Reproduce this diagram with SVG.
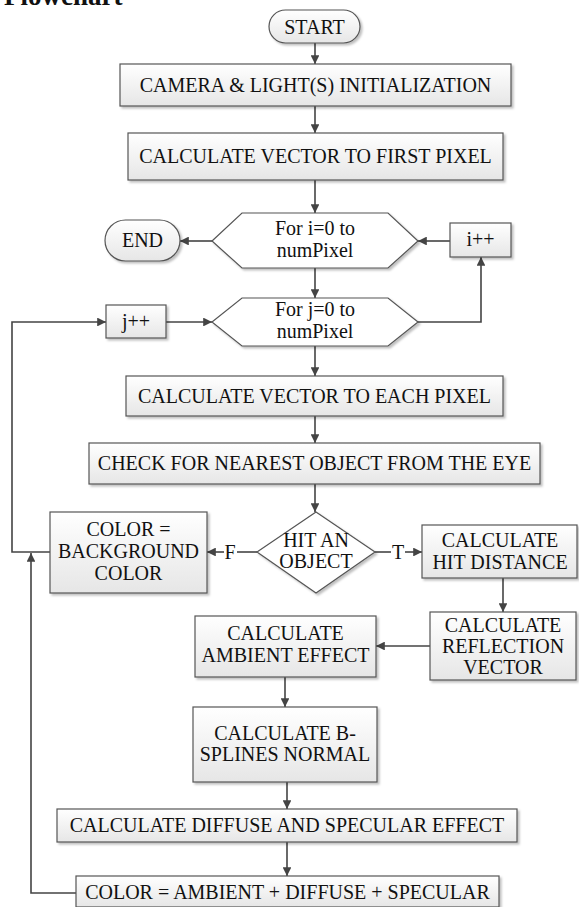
<svg xmlns="http://www.w3.org/2000/svg" width="579" height="907" viewBox="0 0 579 907">
<style>
text{font-family:"Liberation Serif","Times New Roman",serif;font-size:20px;fill:#111;text-anchor:middle}
.box{fill:url(#g);stroke:#555;stroke-width:1.2;filter:url(#sh)}
.plain{fill:#fff;stroke:#555;stroke-width:1.2;filter:url(#sh)}
.ln{fill:none;stroke:#444;stroke-width:1.6}
.arr{fill:none;stroke:#444;stroke-width:1.6;marker-end:url(#ah)}
.title{font-weight:bold;font-size:27px;text-anchor:start}
</style>
<defs>
<linearGradient id="g" x1="0" y1="0" x2="0" y2="1">
<stop offset="0" stop-color="#ffffff"/>
<stop offset="1" stop-color="#e6e6e6"/>
</linearGradient>
<filter id="sh" x="-10%" y="-10%" width="130%" height="140%">
<feDropShadow dx="2" dy="2" stdDeviation="1" flood-color="#000" flood-opacity="0.25"/>
</filter>
<marker id="ah" viewBox="0 0 10 10" refX="10" refY="5" markerWidth="5.5" markerHeight="5.5" orient="auto" markerUnits="strokeWidth">
<path d="M0,0 L10,5 L0,10 Z" fill="#444"/>
</marker>
</defs>
<text class="title" x="4" y="5">Flowchart</text>
<g id="connectors">
<line class="arr" x1="315" y1="43" x2="315" y2="64"/>
<line class="arr" x1="315" y1="106" x2="315" y2="133"/>
<line class="arr" x1="315" y1="180" x2="315" y2="213"/>
<line class="arr" x1="212" y1="241" x2="180" y2="241"/>
<line class="arr" x1="450" y1="241" x2="418" y2="241"/>
<line class="arr" x1="315" y1="268" x2="315" y2="298"/>
<polyline class="arr" points="418,322 481,322 481,257"/>
<line class="arr" x1="166" y1="322" x2="212" y2="322"/>
<polyline class="arr" points="50,552 12,552 12,322 106,322"/>
<line class="arr" x1="315" y1="346" x2="315" y2="376"/>
<line class="arr" x1="315" y1="416" x2="315" y2="443"/>
<line class="arr" x1="315" y1="484" x2="315" y2="512"/>
<line class="ln" x1="257" y1="552" x2="237" y2="552"/>
<line class="arr" x1="224" y1="552" x2="207" y2="552"/>
<text x="230" y="559">F</text>
<line class="ln" x1="375" y1="552" x2="391" y2="552"/>
<line class="arr" x1="405" y1="552" x2="422" y2="552"/>
<text x="398" y="559">T</text>
<line class="arr" x1="503" y1="578" x2="503" y2="612"/>
<line class="arr" x1="430" y1="646" x2="376" y2="646"/>
<line class="arr" x1="285" y1="677" x2="285" y2="707"/>
<line class="arr" x1="287" y1="782" x2="287" y2="809"/>
<line class="arr" x1="287" y1="842" x2="287" y2="876"/>
<polyline class="arr" points="76,893 31,893 31,553"/>
</g>
<g id="start">
<rect class="box" x="269" y="10" width="91" height="33" rx="16.5"/>
<text x="314.5" y="34">START</text>
</g>
<g id="init">
<rect class="box" x="120" y="64" width="391" height="42"/>
<text x="315.5" y="92">CAMERA &amp; LIGHT(S) INITIALIZATION</text>
</g>
<g id="firstpixel">
<rect class="box" x="128" y="133" width="375" height="47"/>
<text x="315.5" y="163">CALCULATE VECTOR TO FIRST PIXEL</text>
</g>
<g id="loop-i">
<polygon class="plain" points="212,241 242,213 388,213 418,241 388,268 242,268"/>
<text x="315" y="235">For i=0 to</text>
<text x="315" y="257">numPixel</text>
</g>
<g id="end">
<rect class="box" x="105" y="220" width="75" height="41" rx="20.5"/>
<text x="142.5" y="247">END</text>
</g>
<g id="inc-i">
<rect class="box" x="450" y="223" width="61" height="34"/>
<text x="480.5" y="246">i++</text>
</g>
<g id="loop-j">
<polygon class="plain" points="212,322 242,298 388,298 418,322 388,346 242,346"/>
<text x="315" y="316">For j=0 to</text>
<text x="315" y="338">numPixel</text>
</g>
<g id="inc-j">
<rect class="box" x="106" y="305" width="60" height="33"/>
<text x="136" y="328">j++</text>
</g>
<g id="eachpixel">
<rect class="box" x="126" y="376" width="377" height="40"/>
<text x="314.5" y="403">CALCULATE VECTOR TO EACH PIXEL</text>
</g>
<g id="check">
<rect class="box" x="89" y="443" width="451" height="41"/>
<text x="314.5" y="470">CHECK FOR NEAREST OBJECT FROM THE EYE</text>
</g>
<g id="hit">
<polygon class="plain" points="316,512 375,552 316,593 257,552"/>
<text x="316" y="547">HIT AN</text>
<text x="316" y="568">OBJECT</text>
</g>
<g id="background">
<rect class="box" x="50" y="512" width="157" height="81"/>
<text x="128.5" y="536">COLOR =</text>
<text x="128.5" y="558">BACKGROUND</text>
<text x="128.5" y="580">COLOR</text>
</g>
<g id="hitdistance">
<rect class="box" x="422" y="525" width="155" height="53"/>
<text x="500" y="547">CALCULATE</text>
<text x="500" y="569">HIT DISTANCE</text>
</g>
<g id="reflection">
<rect class="box" x="430" y="612" width="146" height="68"/>
<text x="503" y="632">CALCULATE</text>
<text x="503" y="653">REFLECTION</text>
<text x="503" y="674">VECTOR</text>
</g>
<g id="ambient">
<rect class="box" x="195" y="616" width="181" height="61"/>
<text x="285.5" y="640">CALCULATE</text>
<text x="285.5" y="662">AMBIENT EFFECT</text>
</g>
<g id="bsplines">
<rect class="box" x="193" y="707" width="184" height="75"/>
<text x="285" y="740">CALCULATE B-</text>
<text x="285" y="761">SPLINES NORMAL</text>
</g>
<g id="diffuse">
<rect class="box" x="57" y="809" width="460" height="33"/>
<text x="287" y="832">CALCULATE DIFFUSE AND SPECULAR EFFECT</text>
</g>
<g id="final">
<rect class="box" x="76" y="876" width="423" height="31"/>
<text x="287.5" y="899">COLOR = AMBIENT + DIFFUSE + SPECULAR</text>
</g>
</svg>
